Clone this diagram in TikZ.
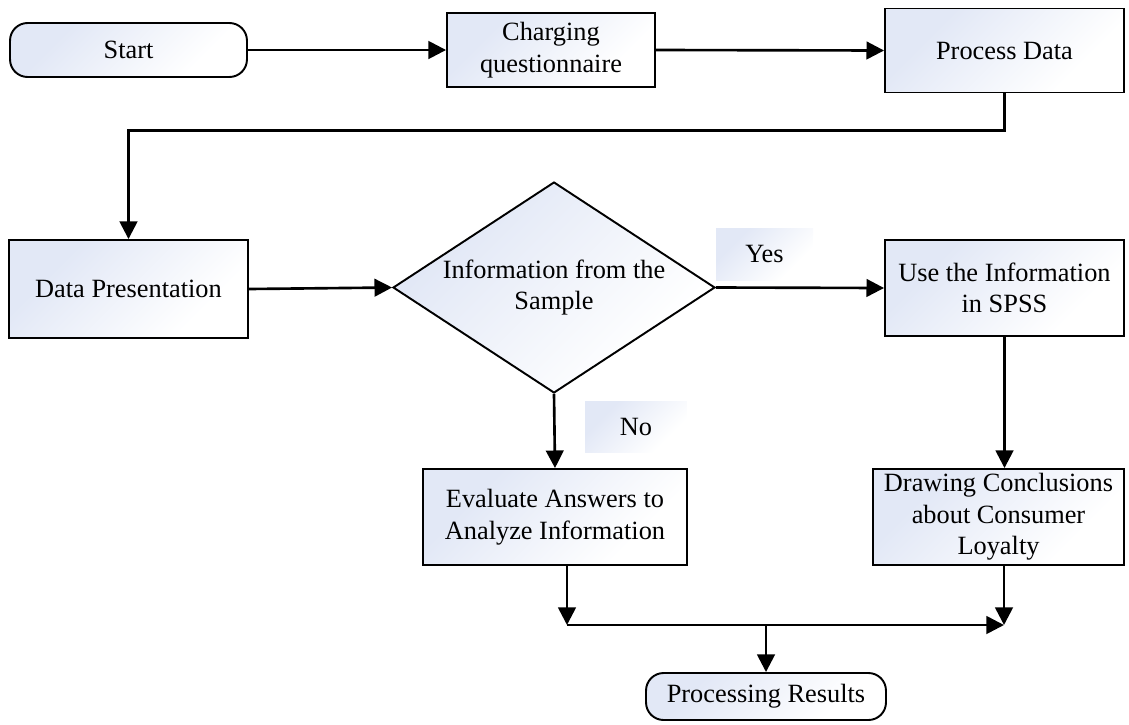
\documentclass[tikz,border=0pt]{standalone}
\usepackage{fontspec}
\setmainfont{Liberation Serif}
\usetikzlibrary{arrows.meta,shapes.geometric}
\definecolor{shadeblue}{RGB}{226,232,246}
\pgfdeclarehorizontalshading{boxfade}{100bp}{color(0bp)=(shadeblue); color(30bp)=(shadeblue); color(70bp)=(white); color(100bp)=(white)}
\begin{document}
\begin{tikzpicture}[x=0.02cm,y=-0.02cm,
    font=\fontsize{15}{18}\selectfont,
    shaded/.style={shading=boxfade, shading angle=-45},
    box/.style={draw, line width=1.1pt, shaded, align=center, inner sep=2pt},
    term/.style={box, rounded corners=10pt},
    decision/.style={draw, line width=1.1pt, shaded, diamond, align=center, inner sep=0pt, aspect=1.53},
    tag/.style={shaded, inner sep=0pt},
    arr/.style={line width=1.5pt, -{Triangle[length=10pt,width=10pt]}}]
                
                \useasboundingbox (0,0) rectangle (1129,724);
                
                % Top row
                \node[term, minimum width=4.74cm, minimum height=1.08cm] (start) at (128.5,50) {Start};
                \node[box, minimum width=4.16cm, minimum height=1.48cm] (cq) at (551,50) {Charging\\questionnaire};
                \node[box, minimum width=4.78cm, minimum height=1.68cm] (pd) at (1004.5,50.5) {Process Data};
                
                % Middle row
                \node[box, minimum width=4.78cm, minimum height=1.96cm] (dp) at (128.5,289) {Data Presentation};
                \node[decision, minimum width=6.44cm, minimum height=4.22cm] (dec) at (554,287.5) {Information from the\\Sample};
                \node[box, minimum width=4.78cm, minimum height=1.92cm] (spss) at (1004.5,288) {Use the Information\\in SPSS};
                
                % Bottom row
                \node[box, minimum width=5.28cm, minimum height=1.92cm] (ev) at (555,517) {Evaluate Answers to\\Analyze Information};
                \node[box, minimum width=5.02cm, minimum height=1.92cm] (dc) at (998.5,517) {Drawing Conclusions\\about Consumer\\Loyalty};
                \node[term, minimum width=4.8cm, minimum height=0.94cm] (pr) at (766,696.5) {Processing Results};
                
                % Labels
                \node[tag, minimum width=1.94cm, minimum height=1.04cm] (yes) at (764.5,254) {Yes};
                \node[tag, minimum width=2.04cm, minimum height=1.02cm] (no) at (636,426.5) {No};
                
                % Merge points
                \coordinate (mL) at (567,625);
                \coordinate (mC) at (766,625);
                \coordinate (mR) at (1004,625);
                
                % Arrows
                \draw[arr] (start.east) -- (cq.west);
                \draw[arr] (cq.east) -- (pd.west);
                \draw[arr] (pd.south) -- ++(0,37) -| (dp.north);
                \draw[arr] (dp.east) -- (dec.west);
                \draw[arr] (dec.east) -- (spss.west);
                \draw[arr] (dec.south) -- (ev.north);
                \draw[arr] (spss.south) -- (spss.south |- dc.north);
                \draw[arr] (ev.south -| mL) -- (mL);
                \draw[arr] (dc.south -| mR) -- (mR);
                \draw[arr] (mL) -- (mR);
                \draw[arr] (mC) -- (pr.north);
                
            \end{tikzpicture}
\end{document}
